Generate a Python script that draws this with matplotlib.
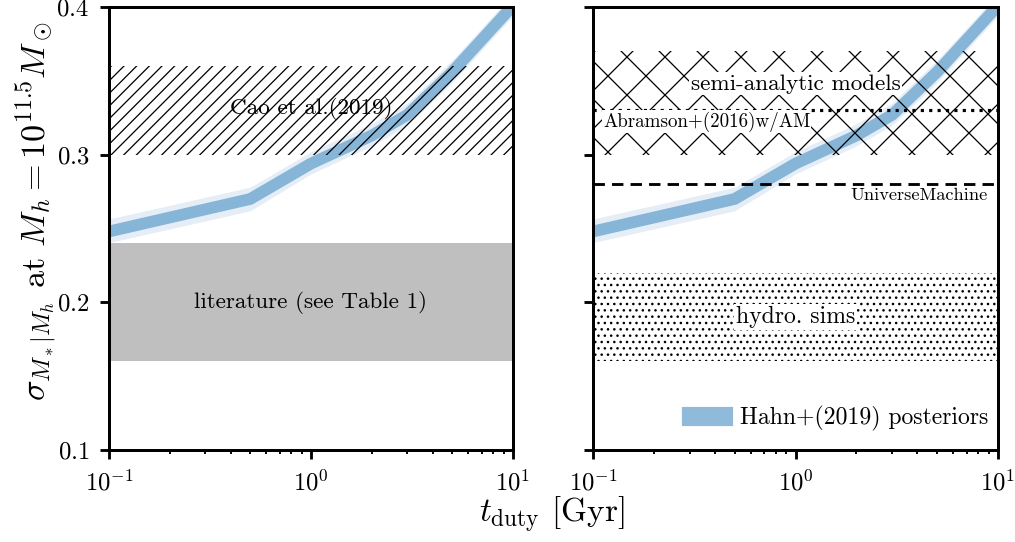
import numpy as np
import matplotlib
matplotlib.use("Agg")
import matplotlib.pyplot as plt
from matplotlib.patches import Patch

plt.rcParams['font.family'] = 'serif'
plt.rcParams['font.serif'] = ['cmr10']
plt.rcParams['mathtext.fontset'] = 'cm'
plt.rcParams['axes.formatter.use_mathtext'] = True
plt.rcParams['hatch.linewidth'] = 0.4
plt.rcParams['axes.linewidth'] = 0.95

# Hahn+(2019) posteriors: sigma vs duty cycle timescale
t_duty = [0.1, 0.5, 1.0, 2.0, 3.0, 5.0, 10.0]
sig_med = [0.248, 0.270, 0.294, 0.313, 0.327, 0.356, 0.401]
sig_lo = [0.2405, 0.262, 0.287, 0.306, 0.320, 0.349, 0.394]
sig_hi = [0.2565, 0.278, 0.302, 0.321, 0.335, 0.364, 0.409]

# literature constraints (left)
cao = (0.30, 0.36)
literature = (0.16, 0.24)
# simulation constraints (right)
sam = (0.30, 0.37)
abramson = 0.33
universemachine = 0.28
hydro = (0.16, 0.22)

dpi = 228
fig = plt.figure(figsize=(1016 / dpi, 542 / dpi), dpi=dpi)
ax1 = fig.add_axes([0.1073, 0.1697, 0.3976, 0.8173])
ax2 = fig.add_axes([0.5837, 0.1697, 0.3986, 0.8173])

blue_dark = '#87b5d7'
blue_light = '#e5eef6'

for ax in (ax1, ax2):
    ax.fill_between(t_duty, sig_lo, sig_hi, color=blue_light, lw=0, zorder=1)
    ax.plot(t_duty, sig_med, color=blue_dark, lw=3.7, solid_joinstyle='miter', zorder=2)

# left panel
ax1.fill_between([0.1, 10], cao[0], cao[1], facecolor='none', edgecolor='k', hatch='//////', lw=0, zorder=3)
ax1.text(1.0, 0.331, 'Cao et al.(2019)', ha='center', va='center', fontsize=7.3, zorder=4)
ax1.fill_between([0.1, 10], literature[0], literature[1], color='#bfbfbf', lw=0, zorder=0)
ax1.text(1.0, 0.200, 'literature (see Table 1)', ha='center', va='center', fontsize=7.3, zorder=4)

# right panel
ax2.fill_between([0.1, 10], sam[0], sam[1], facecolor='none', edgecolor='k', hatch='xx', lw=0, zorder=3)
ax2.text(1.0, 0.348, 'semi-analytic models', ha='center', va='center', fontsize=7.3, zorder=4,
         bbox=dict(facecolor='white', edgecolor='none', pad=0.5))
ax2.axhline(abramson, color='k', ls=':', lw=1.0, zorder=4)
ax2.text(0.112, 0.3225, 'Abramson+(2016)w/AM', ha='left', va='center', fontsize=6, zorder=4,
         bbox=dict(facecolor='white', edgecolor='none', pad=0.3))
ax2.axhline(universemachine, color='k', ls='--', lw=0.9, dashes=(4, 2.5), zorder=4)
ax2.text(8.9, 0.2725, 'UniverseMachine', ha='right', va='center', fontsize=5.8, zorder=4)
ax2.fill_between([0.1, 10], hydro[0], hydro[1], facecolor='none', edgecolor='k', hatch='......', lw=0, zorder=3)
ax2.text(1.0, 0.190, 'hydro. sims', ha='center', va='center', fontsize=7.5, zorder=4,
         bbox=dict(facecolor='white', edgecolor='none', pad=0.5))

ax2.legend(handles=[Patch(color='#8fbad9', label='Hahn+(2019) posteriors')],
           loc='lower right', bbox_to_anchor=(1.03, -0.005), frameon=False, fontsize=7.5,
           handletextpad=0.4)

for ax in (ax1, ax2):
    ax.set_xscale('log')
    ax.set_xlim(0.1, 10)
    ax.set_ylim(0.1, 0.4)
    ax.set_yticks([0.1, 0.2, 0.3, 0.4])
    ax.tick_params(which='major', length=2.8, width=0.9, labelsize=7.8)
    ax.tick_params(which='minor', length=1.3, width=0.6)
ax2.set_yticklabels([])

fig.text(0.543, 0.05, r'$t_{\rm duty}$ [Gyr]', ha='center', va='center', fontsize=10.5)
fig.text(0.036, 0.61, r'$\sigma_{M_*|M_h}$ at $M_h = 10^{11.5}M_\odot$', ha='center', va='center',
         rotation=90, fontsize=10.8)

fig.savefig('out.png', dpi=dpi)
